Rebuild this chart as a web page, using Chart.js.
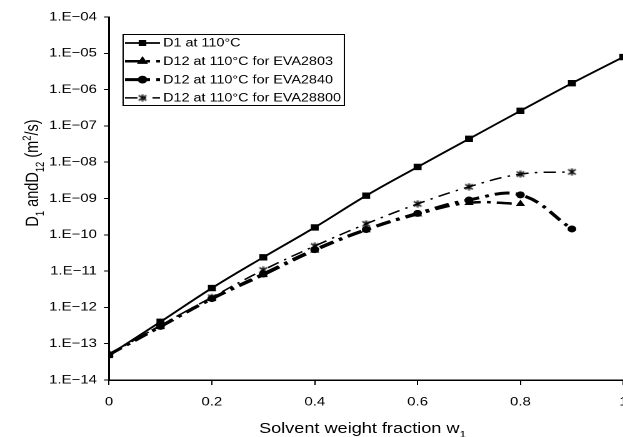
<!DOCTYPE html>
<html>
<head>
<meta charset="utf-8">
<script src="https://cdn.jsdelivr.net/npm/chart.js@4.4.0/dist/chart.umd.min.js"></script>
<style>
  html, body { margin: 0; padding: 0; background: #fff; overflow: hidden; }
</style>
</head>
<body>
<canvas id="chart" width="512" height="437" style="width:640px;height:437px"></canvas>
<script>
// solvent weight fraction w1
const wFraction = [0, 0.1, 0.2, 0.3, 0.4, 0.5, 0.6, 0.7, 0.8, 0.9, 1.0];

// diffusion coefficients (m2/s)
const d1 = [4.9e-14, 4.0e-13, 3.4e-12, 2.4e-11, 1.6e-10, 1.2e-9, 7.4e-9, 4.4e-8, 2.6e-7, 1.5e-6, 7.9e-6];
const d12Eva2803 = [5.0e-14, 2.9e-13, 1.7e-12, 7.8e-12, 3.7e-11, 1.35e-10, 3.7e-10, 7.6e-10, 7.1e-10];
const d12Eva2840 = [5.0e-14, 3.0e-13, 1.75e-12, 8.3e-12, 3.9e-11, 1.4e-10, 3.9e-10, 9.1e-10, 1.26e-9, 1.45e-10];
const d12Eva28800 = [5.0e-14, 3.2e-13, 1.9e-12, 1.07e-11, 4.9e-11, 2.0e-10, 7.1e-10, 2.1e-9, 4.7e-9, 5.4e-9];

const seriesLabels = [
  'D1 at 110°C',
  'D12 at 110°C for EVA2803',
  'D12 at 110°C for EVA2840',
  'D12 at 110°C for EVA28800'
];

const xTickValues = [0, 0.2, 0.4, 0.6, 0.8, 1];
const xTickLabels = ['0', '0.2', '0.4', '0.6', '0.8', '1'];
const yTickValues = [1e-14, 1e-13, 1e-12, 1e-11, 1e-10, 1e-9, 1e-8, 1e-7, 1e-6, 1e-5, 1e-4];
const yTickLabels = ['1.E\u221214', '1.E\u221213', '1.E\u221212', '1.E\u221211', '1.E\u221210',
  '1.E\u221209', '1.E\u221208', '1.E\u221207', '1.E\u221206', '1.E\u221205', '1.E\u221204'];

const FONT = '"Liberation Sans", Arial, sans-serif';

function toPoints(values) {
  return values.map((y, i) => ({ x: wFraction[i], y: y }));
}

// asterisk marker (x with a vertical bar)
function makeAsterisk() {
  const c = document.createElement('canvas');
  c.width = 8; c.height = 8;
  const g = c.getContext('2d');
  g.strokeStyle = '#000';
  g.lineWidth = 1.3;
  g.beginPath();
  g.moveTo(1, 1.5); g.lineTo(7, 6.5);
  g.moveTo(7, 1.5); g.lineTo(1, 6.5);
  g.moveTo(4, 0.5); g.lineTo(4, 7.5);
  g.stroke();
  return c;
}

function drawRich(ctx, parts, x, y, size) {
  let total = 0;
  parts.forEach(p => {
    ctx.font = (p.s ? size * 0.65 : size) + 'px ' + FONT;
    p.w = ctx.measureText(p.t).width;
    total += p.w;
  });
  let cx = x - total / 2;
  parts.forEach(p => {
    ctx.font = (p.s ? size * 0.65 : size) + 'px ' + FONT;
    let dy = 0;
    if (p.s === 'sub') dy = size * 0.3;
    if (p.s === 'sup') dy = -size * 0.4;
    ctx.fillText(p.t, cx, y + dy);
    cx += p.w;
  });
}

const axisTitles = {
  id: 'axisTitles',
  afterDraw(chart) {
    const ctx = chart.ctx;
    ctx.save();
    ctx.fillStyle = '#000';
    ctx.textBaseline = 'alphabetic';
    ctx.textAlign = 'left';
    drawRich(ctx, [{ t: 'Solvent weight fraction w' }, { t: '1', s: 'sub' }], 290, 433, 14.5);
    ctx.translate(30.5, 173);
    ctx.rotate(-Math.PI / 2);
    drawRich(ctx, [
      { t: 'D' }, { t: '1', s: 'sub' }, { t: ' andD' }, { t: '12', s: 'sub' },
      { t: ' (m' }, { t: '2', s: 'sup' }, { t: '/s)' }
    ], 0, 0, 14.5);
    ctx.restore();
  }
};

const boxLegend = {
  id: 'boxLegend',
  afterDatasetsDraw(chart) {
    const ctx = chart.ctx;
    ctx.save();
    ctx.fillStyle = '#fff';
    ctx.fillRect(98.5, 34.5, 177, 71);
    ctx.strokeStyle = '#000';
    ctx.lineWidth = 1;
    ctx.strokeRect(98.5, 34.5, 177, 71);
    chart.data.datasets.forEach((ds, i) => {
      const y = 43 + i * 18.3;
      ctx.beginPath();
      ctx.setLineDash(ds.borderDash || []);
      ctx.lineWidth = ds.borderWidth;
      ctx.moveTo(100, y);
      ctx.lineTo(128, y);
      ctx.stroke();
      ctx.setLineDash([]);
      ctx.fillStyle = '#000';
      Chart.helpers.drawPoint(ctx, {
        pointStyle: ds.pointStyle, radius: ds.pointRadius * 0.8, rotation: 0, borderWidth: 1
      }, 114, y);
      ctx.font = '11.5px ' + FONT;
      ctx.textBaseline = 'middle';
      ctx.textAlign = 'left';
      ctx.fillText(ds.label, 130.5, y + 0.5);
    });
    ctx.restore();
  }
};

const common = {
  borderColor: '#000',
  backgroundColor: '#000',
  pointBorderColor: '#000',
  pointBackgroundColor: '#000',
  pointBorderWidth: 1,
  tension: 0.4,
  fill: false
};

new Chart(document.getElementById('chart'), {
  type: 'line',
  data: {
    datasets: [
      Object.assign({}, common, {
        label: seriesLabels[0], data: toPoints(d1),
        borderWidth: 1.8, pointStyle: 'rect', pointRadius: 3.8
      }),
      Object.assign({}, common, {
        label: seriesLabels[1], data: toPoints(d12Eva2803),
        borderWidth: 2.5, borderDash: [12, 5, 3, 5], pointStyle: 'triangle', pointRadius: 3.3
      }),
      Object.assign({}, common, {
        label: seriesLabels[2], data: toPoints(d12Eva2840),
        borderWidth: 3, borderDash: [12, 5, 3, 5], pointStyle: 'circle', pointRadius: 3
      }),
      Object.assign({}, common, {
        label: seriesLabels[3], data: toPoints(d12Eva28800),
        borderWidth: 1.5, borderDash: [10, 5, 2, 5], pointStyle: makeAsterisk(), pointRadius: 4
      })
    ]
  },
  options: {
    responsive: false,
    devicePixelRatio: 2,
    animation: false,
    layout: { padding: { top: 17, right: 12.8, bottom: 0, left: 0 } },
    plugins: { legend: { display: false }, tooltip: { enabled: false } },
    scales: {
      x: {
        type: 'linear', min: 0, max: 1,
        afterBuildTicks: s => { s.ticks = xTickValues.map(v => ({ value: v })); },
        afterFit: s => { s.height = 57; },
        ticks: {
          color: '#000', font: { family: FONT, size: 12 }, padding: 10,
          maxRotation: 0, autoSkip: false,
          callback: (v, i) => xTickLabels[i]
        },
        grid: { drawOnChartArea: false, color: '#000', tickLength: 5, tickWidth: 1 },
        border: { color: '#000', width: 1.5 }
      },
      y: {
        type: 'logarithmic', min: 1e-14, max: 1e-4,
        afterBuildTicks: s => { s.ticks = yTickValues.map(v => ({ value: v })); },
        afterFit: s => { s.width = 87.2; },
        ticks: {
          color: '#000', font: { family: FONT, size: 12 }, padding: 5.6,
          autoSkip: false,
          callback: (v, i) => yTickLabels[i]
        },
        grid: { drawOnChartArea: false, color: '#000', tickLength: 4, tickWidth: 1 },
        border: { color: '#000', width: 1.5 }
      }
    }
  },
  plugins: [boxLegend, axisTitles]
});
</script>
</body>
</html>
